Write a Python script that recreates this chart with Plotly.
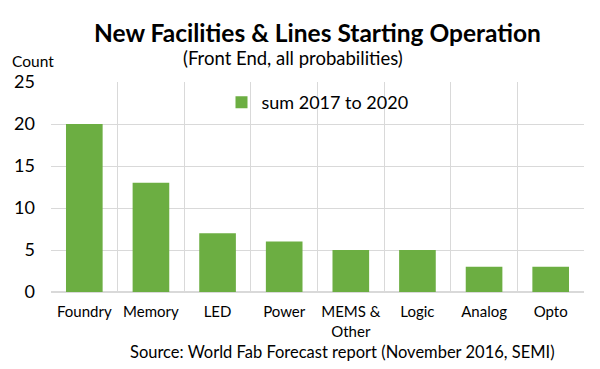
import plotly.graph_objects as go

categories = ["Foundry", "Memory", "LED", "Power", "MEMS &<br>Other", "Logic", "Analog", "Opto"]
values = [20, 13, 7, 6, 5, 5, 3, 3]
series_name = "sum 2017 to 2020"
y_ticks = [0, 5, 10, 15, 20, 25]

FONT = "Lato, 'Open Sans', sans-serif"

W, H = 600, 369
l, r, t, b = 51, 16, 82, 77
pw, ph = W - l - r, H - t - b


def px2paper(px, py):
    return (px - l) / pw, (H - b - py) / ph


fig = go.Figure()
fig.add_trace(go.Bar(
    x=categories, y=values, name=series_name,
    marker=dict(color="#6cae42", line=dict(width=0)),
))

texts = [
    ("(Front End, all probabilities)", 293, 58, 18.5),
    ("Count", 33, 61, 15.5),
    ("Source: World Fab Forecast report (November 2016, SEMI)", 342, 352, 16.5),
]
annotations = []
for txt, px, py, fs in texts:
    xx, yy = px2paper(px, py)
    annotations.append(dict(text=txt, x=xx, y=yy, xref="paper", yref="paper",
                            showarrow=False, xanchor="center", yanchor="middle",
                            font=dict(size=fs, family=FONT)))

fig.update_layout(
    width=W, height=H,
    margin=dict(l=l, r=r, t=t, b=b, autoexpand=False),
    paper_bgcolor="white", plot_bgcolor="white",
    font=dict(family=FONT, color="#000000"),
    bargap=0.45,
    showlegend=True,
    legend=dict(x=0.5, y=0.99, xanchor="center", yanchor="top",
                font=dict(size=18, family=FONT), bgcolor="rgba(0,0,0,0)"),
    title=dict(text="<b>New Facilities & Lines Starting Operation</b>",
               x=0.5, xanchor="center", y=1 - 33 / H, yanchor="middle",
               xref="paper", font=dict(size=24.5, family=FONT)),
    xaxis=dict(type="category", tickson="boundaries", showgrid=True,
               gridcolor="#d9d9d9", gridwidth=1, ticks="", showline=False,
               tickangle=0, automargin=False, ticklabelstandoff=9,
               tickfont=dict(size=15, family=FONT)),
    yaxis=dict(range=[0, 25], tickvals=y_ticks, showgrid=True,
               gridcolor="#d9d9d9", gridwidth=1, zeroline=True,
               zerolinecolor="#d9d9d9", ticks="", ticklabelstandoff=15,
               automargin=False,
               tickfont=dict(size=18, family=FONT)),
    annotations=annotations,
)

fig.write_html("out.html", config={"displayModeBar": False},
               post_script="document.body.style.margin='0px';document.body.style.overflow='hidden';")
